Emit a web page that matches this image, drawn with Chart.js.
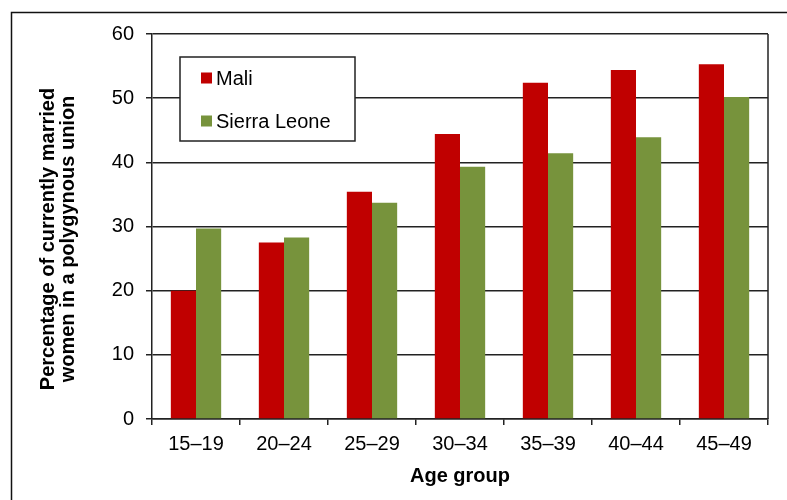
<!DOCTYPE html>
<html>
<head>
<meta charset="utf-8">
<script src="https://cdn.jsdelivr.net/npm/chart.js@4/dist/chart.umd.min.js"></script>
<style>
  html, body { margin: 0; padding: 0; background: #fff; }
  #wrap { width: 787px; height: 500px; position: relative; }
</style>
</head>
<body>
<div id="wrap"><canvas id="c" width="787" height="500"></canvas></div>
<script>
// Polygyny by age group: share of currently married women in a polygynous union
const ageGroups = ['15\u201319', '20\u201324', '25\u201329', '30\u201334', '35\u201339', '40\u201344', '45\u201349'];
const mali = [20.0, 27.5, 35.4, 44.4, 52.4, 54.4, 55.3];
const sierraLeone = [29.7, 28.3, 33.7, 39.3, 41.4, 43.9, 50.2];
const yTicks = [0, 10, 20, 30, 40, 50, 60];

const yTitleLines = ['Percentage of currently married', 'women in a polygynous union'];
const xTitle = 'Age group';
const FONT = "'Liberation Sans', Arial, sans-serif";
const LINE = '#222';

// Outer frame, drawn first so everything sits above it
const framePlugin = {
  id: 'frame',
  beforeDraw(chart) {
    const ctx = chart.ctx;
    ctx.save();
    ctx.fillStyle = '#fff';
    ctx.fillRect(0, 0, chart.width, chart.height);
    ctx.strokeStyle = '#111';
    ctx.lineWidth = 1.5;
    ctx.strokeRect(11.5, 12.5, chart.width + 20, chart.height + 20);
    ctx.restore();
  }
};

// Right edge of the plot box and the rotated two-line y-axis title
const boxPlugin = {
  id: 'box',
  afterDraw(chart) {
    const ctx = chart.ctx;
    const a = chart.chartArea;
    ctx.save();
    ctx.strokeStyle = LINE;
    ctx.lineWidth = 1.5;
    ctx.beginPath();
    ctx.moveTo(a.right, a.top);
    ctx.lineTo(a.right, a.bottom);
    ctx.stroke();

    ctx.fillStyle = '#000';
    ctx.font = 'bold 20px ' + FONT;
    ctx.textAlign = 'center';
    ctx.textBaseline = 'middle';
    ctx.translate(0, 239);
    ctx.rotate(-Math.PI / 2);
    yTitleLines.forEach((t, i) => ctx.fillText(t, 0, 48 + i * 20));
    ctx.restore();
  }
};

// Boxed legend inside the plot, built from the datasets
const legendBoxPlugin = {
  id: 'legendBox',
  afterDatasetsDraw(chart) {
    const ctx = chart.ctx;
    const x0 = 180, y0 = 57, w = 175, h = 84;
    ctx.save();
    ctx.fillStyle = '#fff';
    ctx.fillRect(x0, y0, w, h);
    ctx.strokeStyle = LINE;
    ctx.lineWidth = 1.5;
    ctx.strokeRect(x0, y0, w, h);
    ctx.font = '20px ' + FONT;
    ctx.textAlign = 'left';
    ctx.textBaseline = 'middle';
    chart.data.datasets.forEach((ds, i) => {
      const cy = 78 + i * 43;
      ctx.fillStyle = ds.backgroundColor;
      ctx.fillRect(201, cy - 5.5, 11, 11);
      ctx.fillStyle = '#000';
      ctx.fillText(ds.label, 216, cy + 1);
    });
    ctx.restore();
  }
};

new Chart(document.getElementById('c'), {
  type: 'bar',
  data: {
    labels: ageGroups,
    datasets: [
      { label: 'Mali', data: mali, backgroundColor: '#C00000',
        categoryPercentage: 0.572, barPercentage: 1.0 },
      { label: 'Sierra Leone', data: sierraLeone, backgroundColor: '#77933C',
        categoryPercentage: 0.572, barPercentage: 1.0 }
    ]
  },
  options: {
    responsive: false,
    animation: false,
    devicePixelRatio: 1,
    layout: { padding: { left: 0, right: 19, top: 34, bottom: 0 } },
    plugins: {
      legend: { display: false },
      tooltip: { enabled: false }
    },
    scales: {
      x: {
        grid: { offset: true, drawOnChartArea: false, drawTicks: true, tickLength: 6, color: LINE, lineWidth: 1.5 },
        border: { display: true, color: LINE, width: 1.5 },
        ticks: { color: '#000', font: { family: FONT, size: 20 }, padding: 7, maxRotation: 0 },
        title: { display: true, text: xTitle, color: '#000',
                 font: { family: FONT, size: 20, weight: 'bold', lineHeight: 1.2 },
                 padding: { top: 0, bottom: 12 } },
        afterFit(scale) { scale.height = 81; }
      },
      y: {
        min: 0,
        max: 60,
        afterBuildTicks(scale) { scale.ticks = yTicks.map(v => ({ value: v })); },
        grid: { color: LINE, lineWidth: 1.5, tickLength: 6, drawTicks: true },
        border: { display: true, color: LINE, width: 1.5 },
        ticks: { color: '#000', font: { family: FONT, size: 20 }, padding: 12 },
        afterFit(scale) { scale.width = 152; }
      }
    }
  },
  plugins: [framePlugin, legendBoxPlugin, boxPlugin]
});
</script>
</body>
</html>
